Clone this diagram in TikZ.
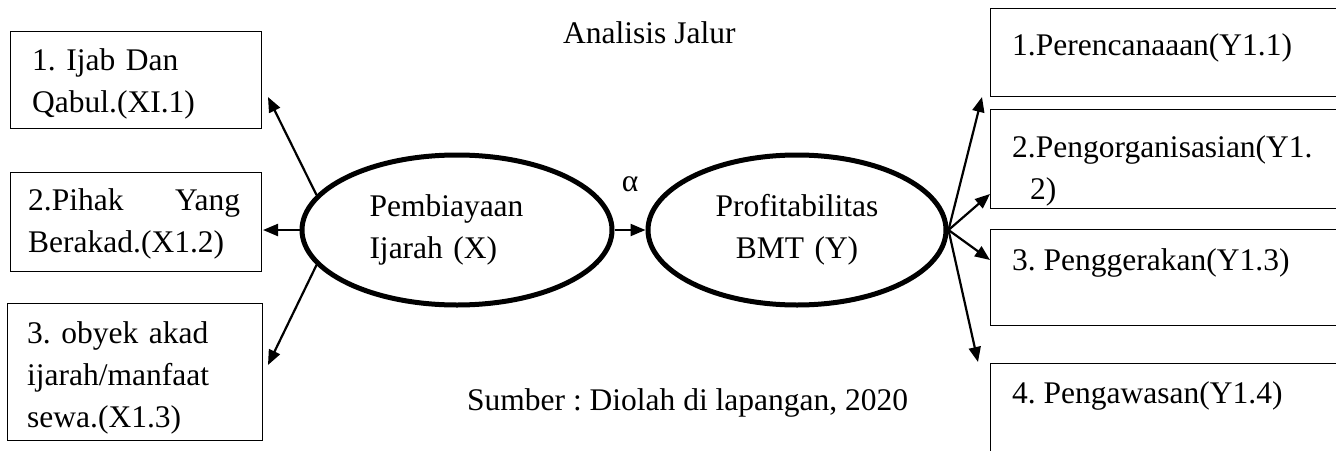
\documentclass[tikz,border=0pt]{standalone}
\usepackage{fontspec}
\setmainfont{Liberation Serif}
\usetikzlibrary{shapes.geometric,arrows.meta}
\begin{document}
\begin{tikzpicture}[x=1pt,y=-1pt,
  every node/.style={font=\fontsize{31.5}{42}\selectfont\frenchspacing},
  box/.style={draw,line width=1.3pt,inner sep=0pt,anchor=north west},
  txt/.style={inner sep=0pt,anchor=base west,text width=#1,execute at begin node={\raggedright}},
  lbl/.style={inner sep=0pt,anchor=base west},
  ell/.style={draw,ellipse,line width=5pt,inner sep=0pt,minimum width=#1,minimum height=150pt},
  arr/.style={line width=2.2pt,-{Triangle[length=15pt,width=12pt]}}]
\clip (0,0) rectangle (1336,450);
\fill[white] (0,0) rectangle (1336,450);
% left boxes
\node[box,minimum width=251pt,minimum height=97pt] (b1) at (10,31) {};
\node[box,minimum width=251pt,minimum height=99pt] (b2) at (10,172) {};
\node[box,minimum width=255pt,minimum height=137pt] (b3) at (7,303) {};
\node[txt=225pt] (t1) at (32,70) {1. Ijab Dan\\Qabul.(XI.1)};
\node[txt=212pt] (t2) at (28,210) {2.Pihak\hfill Yang\\Berakad.(X1.2)};
\node[txt=230pt] (t3) at (27,343) {3. obyek akad\\ijarah/manfaat\\sewa.(X1.3)};
% right boxes
\node[box,minimum width=410pt,minimum height=88pt] (r1) at (990,8) {};
\node[box,minimum width=410pt,minimum height=99pt] (r2) at (990,109) {};
\node[box,minimum width=410pt,minimum height=96pt] (r3) at (990,229) {};
\node[box,minimum width=410pt,minimum height=140pt] (r4) at (990,363) {};
\node[lbl] (s1) at (1012,55) {1.Perencanaaan(Y1.1)};
\node[txt=330pt] (s2) at (1012,157) {2.Pengorganisasian(Y1.\\\hspace*{18pt}2)};
\node[lbl] (s3) at (1012,270) {3. Penggerakan(Y1.3)};
\node[lbl] (s4) at (1012,403) {4. Pengawasan(Y1.4)};
% ellipses
\node[ell=310pt,text width=175pt,execute at begin node={\raggedright}] (X) at (457,230) {Pembiayaan\\Ijarah (X)};
\node[ell=298pt,text width=180pt,execute at begin node={\centering}] (Y) at (797,230) {Profitabilitas\\BMT (Y)};
\node[inner sep=0pt] (alpha) at (630,184) {α};
% titles
\node[lbl] (title) at (563,43) {Analisis Jalur};
\node[lbl] (src) at (467,410) {Sumber : Diolah di lapangan, 2020};
% arrows
\coordinate (tl1) at (268,97);
\coordinate (tl2) at (263,230);
\coordinate (tl3) at (268,365);
\coordinate (tr1) at (982,97);
\coordinate (tr2) at (990,194);
\coordinate (tr3) at (990,260);
\coordinate (tr4) at (978,362);
\draw[arr] (X.east) -- (Y.west);
\draw[arr] (X.166) -- (tl1);
\draw[arr] (X.west) -- (tl2);
\draw[arr] (X.194) -- (tl3);
\draw[arr] (Y.east) -- (tr1);
\draw[arr] (Y.east) -- (tr2);
\draw[arr] (Y.east) -- (tr3);
\draw[arr] (Y.east) -- (tr4);
\end{tikzpicture}
\end{document}
